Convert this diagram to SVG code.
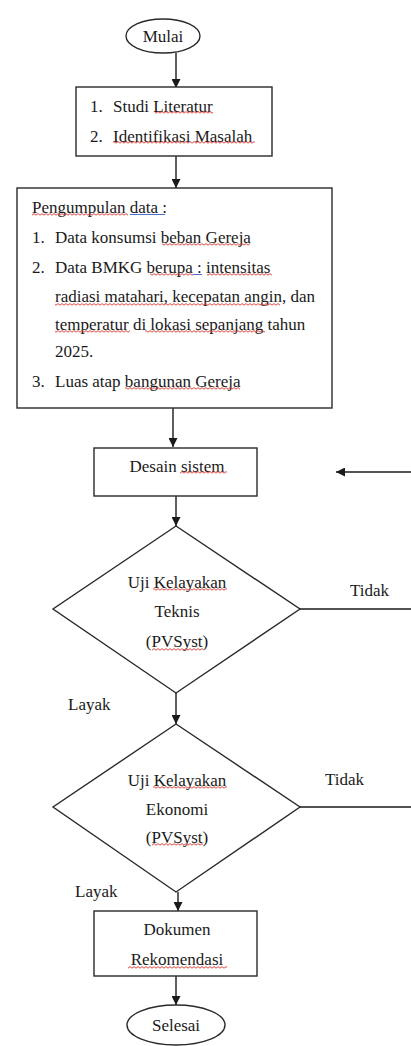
<svg xmlns="http://www.w3.org/2000/svg" width="411" height="1046" viewBox="0 0 411 1046" font-family="'Liberation Serif', 'Times New Roman', serif">
<style>
.shape{fill:#fff;stroke:#2a2a2a;stroke-width:1.4}
.t{font-family:'Liberation Serif','Times New Roman',serif;font-size:17px;fill:#1a1a1a}
.c{text-anchor:middle}
.conn{fill:none;stroke:#1a1a1a;stroke-width:1.4}
.sq{fill:url(#sq)}
.bl{stroke:#4a6fd0;stroke-width:1}
</style>
<defs>
<marker id="ah" viewBox="0 0 10 10" refX="10" refY="5" markerWidth="9" markerHeight="9" markerUnits="userSpaceOnUse" orient="auto">
<path d="M0 0 L10 5 L0 10 z" fill="#1a1a1a"/>
</marker>
<pattern id="sq" patternUnits="userSpaceOnUse" width="4" height="3">
<path d="M0 2.2 L2 0.6 L4 2.2" fill="none" stroke="#d8322a" stroke-width="0.9"/>
</pattern>
</defs>
<rect width="411" height="1046" fill="#fff"/>
<g id="connectors">
<path class="conn" d="M176 53 V88" marker-end="url(#ah)"/>
<path class="conn" d="M176 156 V188" marker-end="url(#ah)"/>
<path class="conn" d="M173 408 V447" marker-end="url(#ah)"/>
<path class="conn" d="M176 496 V526" marker-end="url(#ah)"/>
<path class="conn" d="M176 693 V724" marker-end="url(#ah)"/>
<path class="conn" d="M178 892 V911" marker-end="url(#ah)"/>
<path class="conn" d="M176 976 V1005" marker-end="url(#ah)"/>
<path class="conn" d="M411 472 H336" marker-end="url(#ah)"/>
<path class="conn" d="M300 609 H411"/>
<path class="conn" d="M300 807 H411"/>
<text class="t" x="350" y="596">Tidak</text>
<text class="t" x="68" y="710">Layak</text>
<text class="t" x="325" y="785">Tidak</text>
<text class="t" x="75" y="897">Layak</text>
</g>
<g id="mulai">
<ellipse class="shape" cx="163" cy="36" rx="37" ry="17"/>
<text class="t c" x="163" y="42">Mulai</text>
</g>
<g id="studi">
<rect class="shape" x="76" y="87" width="196" height="69"/>
<text class="t" x="90" y="112">1.</text>
<text class="t" x="113" y="112">Studi Literatur</text>
<text class="t" x="90" y="142">2.</text>
<text class="t" x="113" y="142">Identifikasi Masalah</text>
<rect class="sq" x="155" y="111" width="58" height="3"/>
<rect class="sq" x="113" y="141" width="142" height="3"/>
</g>
<g id="pengumpulan">
<rect class="shape" x="17" y="188" width="315" height="220"/>
<text class="t" x="32" y="213">Pengumpulan data :</text>
<text class="t" x="32" y="243">1.</text>
<text class="t" x="55" y="243">Data konsumsi beban Gereja</text>
<text class="t" x="32" y="273">2.</text>
<text class="t" x="55" y="273">Data BMKG berupa : intensitas</text>
<text class="t" x="55" y="302" textLength="260">radiasi matahari, kecepatan angin, dan</text>
<text class="t" x="55" y="330">temperatur di lokasi sepanjang tahun</text>
<text class="t" x="55" y="357">2025.</text>
<text class="t" x="32" y="387">3.</text>
<text class="t" x="55" y="387">Luas atap bangunan Gereja</text>
<rect class="sq" x="32" y="213" width="96" height="3"/>
<line class="bl" x1="130" y1="214.5" x2="165" y2="214.5"/>
<rect class="sq" x="162" y="243" width="88" height="3"/>
<rect class="sq" x="150" y="273" width="43" height="3"/>
<line class="bl" x1="193" y1="274.5" x2="202" y2="274.5"/>
<rect class="sq" x="207" y="273" width="65" height="3"/>
<rect class="sq" x="55" y="303" width="225" height="3"/>
<rect class="sq" x="55" y="330" width="75" height="3"/>
<rect class="sq" x="145" y="330" width="120" height="3"/>
<rect class="sq" x="125" y="387" width="115" height="3"/>
</g>
<g id="desain">
<rect class="shape" x="94" y="448" width="163" height="48"/>
<text class="t c" x="177" y="472">Desain sistem</text>
<rect class="sq" x="180" y="471" width="47" height="3"/>
</g>
<g id="teknis">
<polygon class="shape" points="176,526 300,609 176,693 53,609"/>
<text class="t c" x="177" y="588">Uji Kelayakan</text>
<text class="t c" x="177" y="617">Teknis</text>
<text class="t c" x="177" y="647">(PVSyst)</text>
<rect class="sq" x="153" y="588" width="74" height="3"/>
<rect class="sq" x="152" y="648" width="51" height="3"/>
</g>
<g id="ekonomi">
<polygon class="shape" points="176,724 300,807 176,892 53,807"/>
<text class="t c" x="177" y="786">Uji Kelayakan</text>
<text class="t c" x="177" y="815">Ekonomi</text>
<text class="t c" x="177" y="843">(PVSyst)</text>
<rect class="sq" x="153" y="786" width="74" height="3"/>
<rect class="sq" x="152" y="843" width="51" height="3"/>
</g>
<g id="dokumen">
<rect class="shape" x="94" y="911" width="163" height="65"/>
<text class="t c" x="177" y="935">Dokumen</text>
<text class="t c" x="177" y="965">Rekomendasi</text>
<rect class="sq" x="128" y="966" width="99" height="3"/>
</g>
<g id="selesai">
<ellipse class="shape" cx="176" cy="1025" rx="49" ry="20"/>
<text class="t c" x="176" y="1031">Selesai</text>
</g>
</svg>
